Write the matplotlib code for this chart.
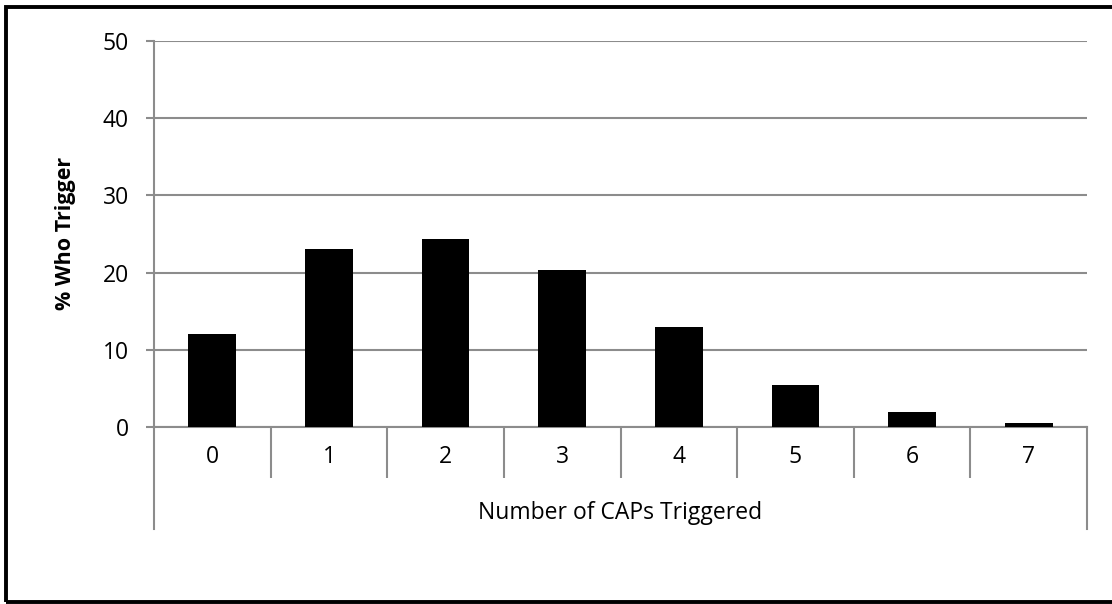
import matplotlib
matplotlib.use("Agg")
import matplotlib.pyplot as plt
from matplotlib.patches import Rectangle

plt.rcParams['font.family'] = ['Open Sans', 'DejaVu Sans']

categories = ['0', '1', '2', '3', '4', '5', '6', '7']
pct_trigger = [12.1, 23.0, 24.4, 20.4, 12.9, 5.4, 1.9, 0.5]
y_ticks = [0, 10, 20, 30, 40, 50]

W, H = 1112, 604
grid_col = '#8c8c8c'

fig = plt.figure(figsize=(W / 100, H / 100), dpi=100)
ax = fig.add_axes([154 / W, (H - 427) / H, (1087 - 154) / W, (427 - 41) / H])

x = range(len(categories))
ax.bar(x, pct_trigger, width=0.41, color='black', zorder=3)

ax.set_xlim(-0.5, len(categories) - 0.5)
ax.set_ylim(0, 50)
ax.set_yticks(y_ticks)
ax.yaxis.grid(True, color=grid_col, linewidth=1.5)
ax.set_axisbelow(True)

for s in ['top', 'right']:
    ax.spines[s].set_visible(False)
for s in ['left', 'bottom']:
    ax.spines[s].set_color(grid_col)
    ax.spines[s].set_linewidth(1.5)

ax.tick_params(axis='y', length=6, width=1.5, color=grid_col, labelsize=16.5, pad=12)

# category labels at centres, separators at boundaries
ax.set_xticks(list(x))
ax.set_xticklabels(categories)
ax.tick_params(axis='x', which='major', length=0, labelsize=16.5, pad=13)
ax.set_xticks([i - 0.5 for i in range(1, len(categories))], minor=True)
ax.tick_params(axis='x', which='minor', length=36.5, width=1.5, color=grid_col)

# outer lines of the category axis box
drop = (529 - 427) / (427 - 41)
for xa in (0, 1):
    ax.plot([xa, xa], [0, -drop], transform=ax.transAxes, color=grid_col,
            linewidth=1.5, clip_on=False)

ax.text(0.5, -(513 - 427) / (427 - 41), 'Number of CAPs Triggered',
        transform=ax.transAxes, ha='center', va='center', fontsize=16.5)
fig.text(65 / W, 1 - 233 / H, '% Who Trigger', rotation=90, ha='center', va='center',
         fontsize=15.5, fontweight='bold')

# outer frame
fig.patches.append(Rectangle((6 / W, 2 / H), 1.2, (597 - 2) / H, transform=fig.transFigure,
                             fill=False, edgecolor='black', linewidth=2.8))

fig.savefig('out.png', dpi=100)
